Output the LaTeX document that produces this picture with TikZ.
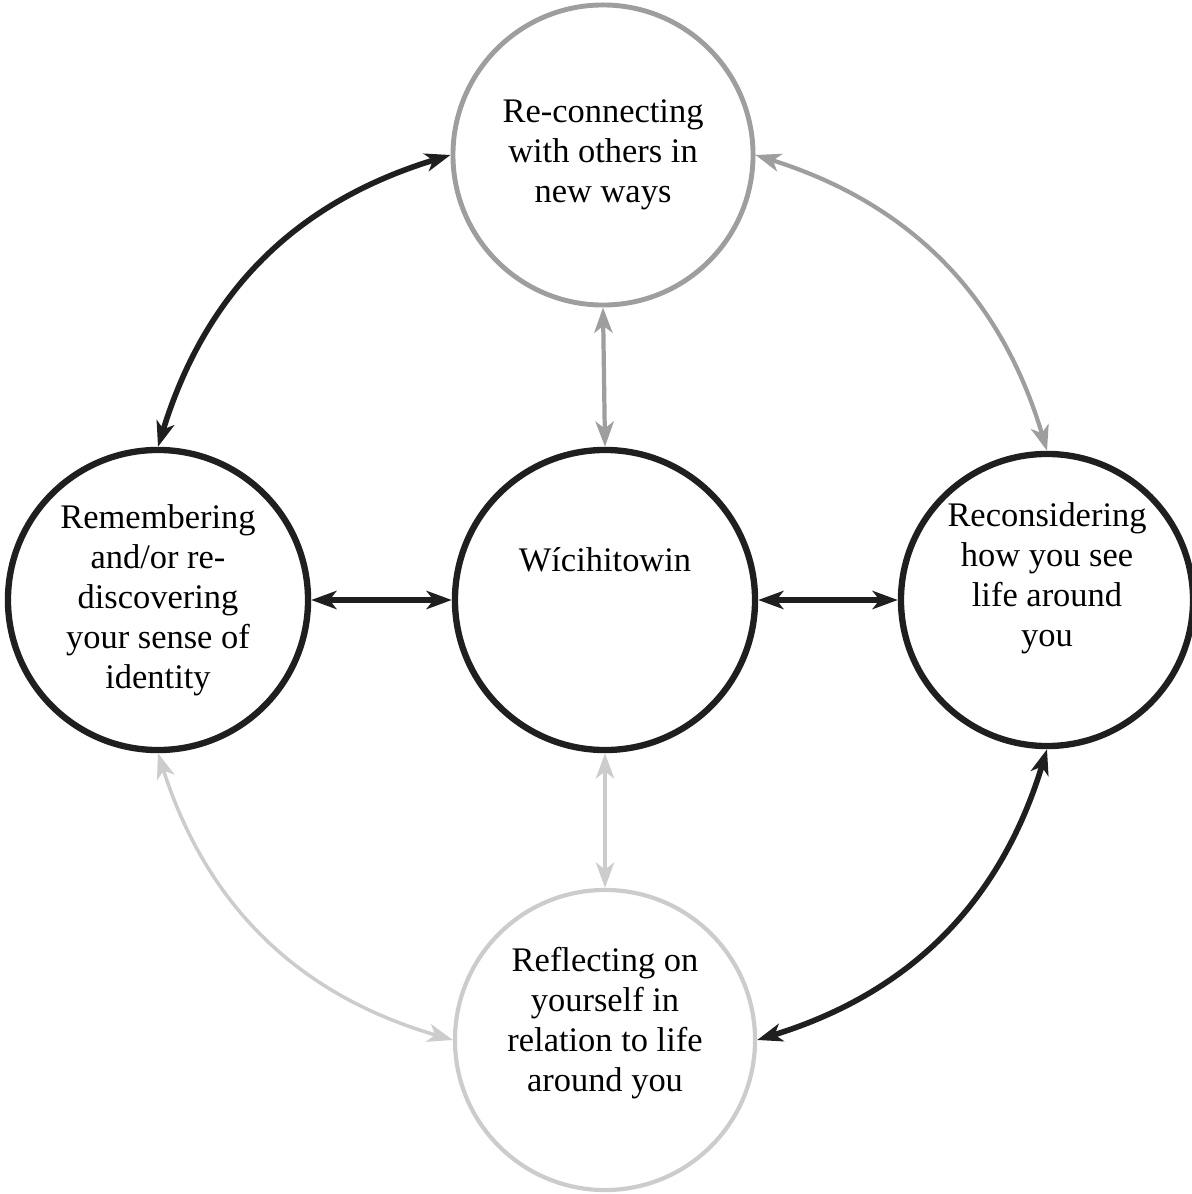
\documentclass[tikz,border=0pt]{standalone}
\usepackage{fontspec}
\setmainfont{Liberation Serif}
\usetikzlibrary{arrows.meta,positioning}

\definecolor{inkdark}{gray}{0.12}
\definecolor{inkmid}{gray}{0.62}
\definecolor{inkpale}{gray}{0.80}

\begin{document}
\begin{tikzpicture}[x=0.025cm,y=-0.025cm,
  ring/.style={circle,draw,inner sep=0pt,minimum size=7.5cm},
  txt/.style={align=center,font=\fontsize{24.5}{28.5}\selectfont},
  link/.style={<->,>={Stealth[length=18pt,width=13pt,inset=5pt]}}]
\useasboundingbox (0,0) rectangle (1191,1194);

% Circles of the cycle
\node[ring,draw=inkmid,line width=3.5pt,
  label={[txt]center:Re-connecting\\with others in\\new ways}] (connect) at (603,155) {};
\node[ring,draw=inkdark,line width=4.5pt,
  label={[txt]center:Remembering\\and/or re-\\discovering\\your sense of\\identity}] (remember) at (158,600) {};
\node[ring,draw=inkdark,line width=4.5pt,
  label={[txt,yshift=1cm]center:Wícihitowin}] (wici) at (605,600) {};
\node[ring,draw=inkdark,line width=4.5pt,minimum size=7.3cm,
  label={[txt,yshift=0.55cm]center:Reconsidering\\how you see\\life around\\you}] (reconsider) at (1047,600) {};
\node[ring,draw=inkpale,line width=3pt,
  label={[txt,yshift=0.42cm]center:Reflecting on\\yourself in\\relation to life\\around you}] (reflect) at (605,1040) {};

% Outer arcs
\draw[link,draw=inkdark,line width=4pt] (connect.west) to[bend right=28] (remember.north);
\draw[link,draw=inkmid,line width=3pt] (connect.east) to[bend left=28] (reconsider.north);
\draw[link,draw=inkdark,line width=4pt] (reconsider.south) to[bend left=28] (reflect.east);
\draw[link,draw=inkpale,line width=2.5pt] (reflect.west) to[bend left=28] (remember.south);

% Spokes to the centre
\draw[link,draw=inkdark,line width=4pt] (remember.east) -- (wici.west);
\draw[link,draw=inkdark,line width=4pt] (wici.east) -- (reconsider.west);
\draw[link,draw=inkmid,line width=3pt] (connect.south) -- (wici.north);
\draw[link,draw=inkpale,line width=2.5pt] (wici.south) -- (reflect.north);
\end{tikzpicture}
\end{document}
